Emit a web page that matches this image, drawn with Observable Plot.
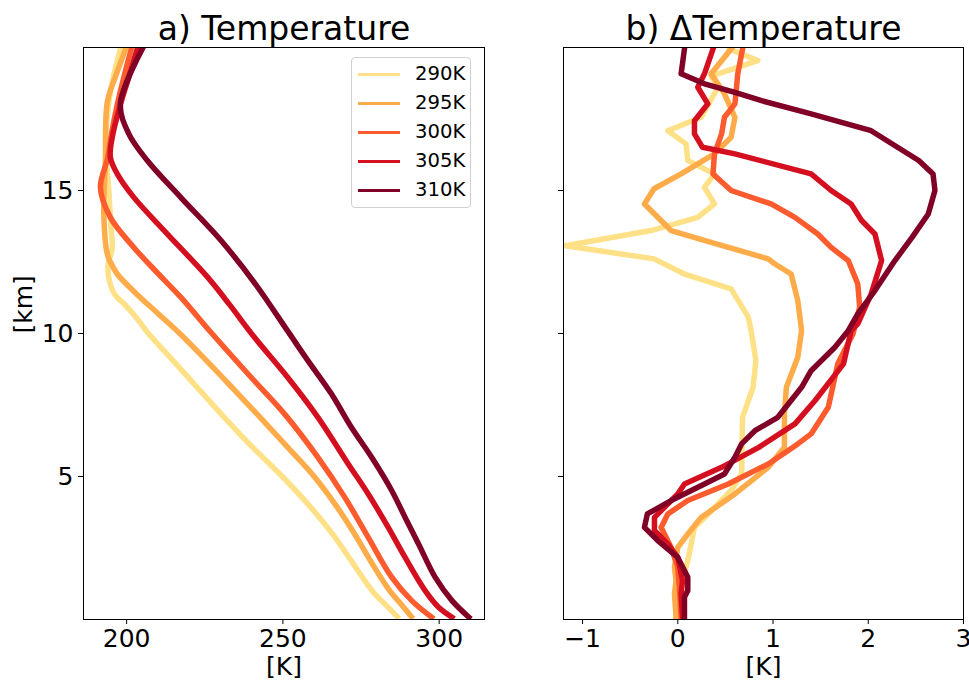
<!DOCTYPE html>
<html><head><meta charset="utf-8">
<script src="https://cdn.jsdelivr.net/npm/d3@7"></script>
<script src="https://cdn.jsdelivr.net/npm/@observablehq/plot@0.6"></script>
<style>
body{margin:0;background:#fff;}
#wrap{position:relative;width:969px;height:682px;overflow:hidden;font-family:"DejaVu Sans",sans-serif;background:#fff;}
#wrap svg{position:absolute;top:0;}
</style></head><body><div id="wrap"></div>
<script>
// ---- data ----
const series = ["290K","295K","300K","305K","310K"];
const colors = ["#fee087","#feab49","#fc5b2e","#d41020","#800026"];
const tempTicks = [200,250,300];
const deltaTicks = [-1,0,1,2,3];
const altTicks = [5,10,15];
const titleA = "a) Temperature";
const titleB = "b) ΔTemperature";
const xLabel = "[K]";
const yLabel = "[km]";

// [altitude km, temperature K]
const temp290 = [[0.1,286.6],[0.5,283],[1,278.6],[2,272.2],[3,265.8],[4,258.3],[5,249.8],[6,240.5],[7,231.8],[8,223.5],[9,215.3],[10,207],[10.5,203.5],[11,199.5],[11.4,196],[12.3,194],[13,195.4],[13.7,195],[15,194.3],[16.75,193.3],[18.5,194.9],[19.95,198]];
const temp295 = [[0.1,291.1],[0.5,288.1],[1,284.2],[2,278.3],[3,272.9],[4,266.9],[5,260],[6,251.7],[7,243.3],[8,234.7],[9,226],[10,217],[10.7,210],[11.4,203],[12.08,197],[12.5,194.8],[12.78,193.8],[14.18,192.7],[16,193.2],[18.08,193.8],[19,196.5],[19.95,199.7]];
const temp300 = [[0.08,297.6],[0.66,291.2],[1.48,284.8],[2.87,277.3],[4.27,269.8],[5.67,261.2],[7.19,250.5],[8.47,239.8],[10,227.3],[11.27,217.3],[12.1,210],[13.01,202.3],[14.06,194.8],[15.11,191.6],[16.16,194],[17,195.2],[18,197],[19,199.2],[19.95,201.5]];
const temp305 = [[0.08,304.1],[0.43,299.8],[1.01,295.5],[2.17,289.1],[3.22,283.7],[4.39,277.3],[5.44,270.9],[7.07,261.2],[8.47,251.5],[9.92,240.5],[11,233],[11.97,225.9],[13.6,212],[14.76,202.3],[15.58,197],[16.16,194.8],[16.86,195.4],[18,198],[19,200.8],[19.95,203.4]];
const temp310 = [[0.08,309.5],[0.66,304.1],[1.48,298.7],[2.64,293.4],[3.57,289.1],[4.51,284.8],[5.67,278.4],[6.72,271.9],[7.89,265.5],[9.05,258],[10.09,251.5],[11.73,241.2],[13.25,230.2],[14.76,217.3],[16.05,206.6],[16.98,200.7],[18.03,198],[19.95,205]];

// [altitude km, temperature change K]
const delta290 = [[19.95,0.54],[19.54,0.84],[19.0,0.35],[18.6,0.42],[17.56,0.245],[17.09,-0.105],[16.63,0.087],[16.05,0.105],[15.58,0.385],[15.11,0.28],[14.53,0.385],[14.06,0.21],[13.6,-0.28],[13.07,-1.18],[12.61,-0.25],[12.08,0.07],[11.56,0.56],[10.57,0.74],[10.1,0.77],[9.05,0.82],[8.12,0.79],[7.07,0.68],[5.09,0.67],[4.51,0.56],[3.69,0.32],[3.22,0.175],[2.29,0.12],[1.59,0.07],[0.9,0.017],[0.08,-0.02]];
const delta295 = [[19.95,0.56],[19.08,0.35],[18.38,0.49],[17.56,0.6],[16.86,0.56],[16.28,0.385],[15.58,0.035],[15.06,-0.25],[14.53,-0.35],[13.6,-0.07],[13.19,0.35],[12.61,0.95],[12.43,1.02],[12.08,1.19],[11.15,1.26],[10.1,1.30],[9.17,1.26],[8.12,1.14],[7.19,1.12],[6.02,1.12],[5.32,0.95],[4.39,0.60],[3.57,0.245],[2.99,0.105],[2.52,0.0],[1.83,-0.035],[1.36,-0.018],[0.9,-0.035],[0.08,-0.018]];
const delta300 = [[19.95,0.68],[19.08,0.63],[18.03,0.6],[17.56,0.49],[16.98,0.46],[16.28,0.385],[15.58,0.37],[15.0,0.56],[14.53,0.98],[14.06,1.23],[13.48,1.47],[13.01,1.61],[12.55,1.79],[11.73,1.89],[10.92,1.91],[9.99,1.84],[8.94,1.68],[7.42,1.58],[6.49,1.40],[6.14,1.26],[5.91,1.16],[5.44,0.95],[4.74,0.53],[4.16,0.105],[3.69,-0.105],[3.22,-0.175],[2.52,-0.07],[1.83,0.0],[1.13,0.017],[0.08,0.035]];
const delta305 = [[19.95,0.37],[19.08,0.28],[18.61,0.21],[18.03,0.315],[17.44,0.175],[16.98,0.175],[16.51,0.26],[16.28,0.6],[15.58,1.40],[15.0,1.61],[14.53,1.82],[13.95,1.93],[13.48,2.07],[12.55,2.14],[11.38,2.03],[10.34,1.89],[10.1,1.82],[8.94,1.74],[7.65,1.44],[6.84,1.23],[6.02,0.85],[5.32,0.46],[4.74,0.07],[4.39,0.0],[3.57,-0.245],[3.11,-0.245],[2.64,-0.105],[2.17,0.0],[1.36,0.05],[0.9,0.035],[0.08,0.05]];
const delta310 = [[19.95,0.07],[19.08,0.035],[18.73,0.28],[18.43,0.6],[18.14,0.88],[17.68,1.40],[17.09,2.03],[16.05,2.53],[15.58,2.68],[15.0,2.70],[14.18,2.63],[13.36,2.46],[12.55,2.28],[11.5,2.07],[10.69,1.89],[10.1,1.79],[9.52,1.65],[8.70,1.40],[8.12,1.30],[7.07,1.05],[6.6,0.81],[6.14,0.67],[5.67,0.60],[5.09,0.49],[4.74,0.28],[4.16,-0.07],[3.69,-0.32],[3.22,-0.35],[2.76,-0.21],[2.17,0.0],[1.48,0.105],[1.01,0.105],[0.78,0.07],[0.08,0.07]];

// ---- build tables ----
const tempProfiles = [temp290,temp295,temp300,temp305,temp310];
const deltaProfiles = [delta290,delta295,delta300,delta305,delta310];
const tempRows = [], deltaRows = [];
series.forEach((s,i) => {
  tempProfiles[i].forEach(([z,v]) => tempRows.push({series:s, z, v}));
  deltaProfiles[i].forEach(([z,v]) => deltaRows.push({series:s, z, v}));
});

const FONT = "DejaVu Sans";
const common = {
  height: 682, marginTop: 47, marginBottom: 63,
  y: {domain: [0, 20]},
  color: {domain: series, range: colors},
  style: {fontFamily: FONT, fontSize: "25px", background: "white", color: "black", overflow: "visible"}
};
const fmt = d => d < 0 ? "\u2212" + Math.abs(d) : String(d);

const left = Plot.plot({
  ...common,
  width: 520, marginLeft: 83, marginRight: 36,
  x: {domain: [186.2, 314.5]},
  marks: [
    Plot.line(tempRows, {x: "v", y: "z", z: "series", stroke: "series", strokeWidth: 5.5, curve: "catmull-rom", strokeLinejoin: "round", strokeLinecap: "square", clip: true}),
    Plot.frame({stroke: "black", strokeWidth: 1}),
    Plot.axisX({ticks: tempTicks, tickSize: 5, tickPadding: 5, fontSize: 25, label: null, tickFormat: fmt}),
    Plot.axisY({ticks: altTicks, tickSize: 5, tickPadding: 5, fontSize: 25, label: null, tickFormat: fmt}),
    Plot.text([titleA], {text: d => d, frameAnchor: "top", dy: -8, lineAnchor: "bottom", fontSize: 33}),
    Plot.text([xLabel], {text: d => d, frameAnchor: "bottom", dy: 47, lineAnchor: "middle", fontSize: 25}),
    Plot.text([yLabel], {text: d => d, frameAnchor: "left", dx: -60, rotate: -90, lineAnchor: "middle", fontSize: 25})
  ]
});
left.style.left = "0px";

const right = Plot.plot({
  ...common,
  width: 449, marginLeft: 43, marginRight: 6,
  x: {domain: [-1.2, 3.0]},
  marks: [
    Plot.line(deltaRows, {x: "v", y: "z", z: "series", stroke: "series", strokeWidth: 5.5, strokeLinejoin: "round", strokeLinecap: "square", clip: true}),
    Plot.frame({stroke: "black", strokeWidth: 1}),
    Plot.axisX({ticks: deltaTicks, tickSize: 5, tickPadding: 5, fontSize: 25, label: null, tickFormat: fmt}),
    Plot.axisY({ticks: altTicks, tickSize: 5, tickPadding: 5, fontSize: 25, label: null, tickFormat: () => ""}),
    Plot.text([titleB], {text: d => d, frameAnchor: "top", dy: -8, lineAnchor: "bottom", fontSize: 33}),
    Plot.text([xLabel], {text: d => d, frameAnchor: "bottom", dy: 47, lineAnchor: "middle", fontSize: 25})
  ]
});
right.style.left = "520px";

const wrap = document.getElementById("wrap");
wrap.appendChild(left);
wrap.appendChild(right);

// ---- legend ----
const leg = d3.select(wrap).append("div")
  .style("position","absolute").style("left","351px").style("top","57px")
  .style("width","120px").style("height","151px")
  .style("border","1px solid #d0d0d0").style("border-radius","4px")
  .style("background","rgba(255,255,255,0.85)").style("box-sizing","border-box");
series.forEach((s,i) => {
  const cy = 16 + i*29;
  leg.append("div").style("position","absolute").style("left","6px").style("top",(cy-1.5)+"px")
    .style("width","42px").style("height","3px").style("background",colors[i]);
  leg.append("div").style("position","absolute").style("left","63px").style("top",(cy-11)+"px")
    .style("font-family",FONT).style("font-size","19.6px").style("line-height","22px").style("color","#000")
    .text(s);
});
</script></body></html>
